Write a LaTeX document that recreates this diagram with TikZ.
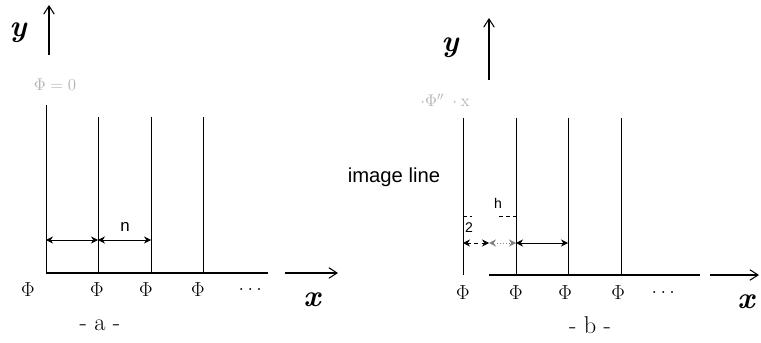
\documentclass[tikz,border=0pt]{standalone}
\usepackage{amsmath}
\usepackage{fontspec}
\setsansfont{Liberation Sans}
\usetikzlibrary{arrows.meta}

\begin{document}
\begin{tikzpicture}[x=0.03cm,y=-0.03cm,
  wire/.style={line width=0.7pt},
  base/.style={line width=1.4pt},
  axis/.style={line width=0.9pt,-{Straight Barb[length=7pt,width=9pt]}},
  dim/.style={line width=0.7pt,{Stealth[length=6pt,width=6pt]}-{Stealth[length=6pt,width=6pt]}},
  philabel/.style={font=\LARGE},
  axlabel/.style={font=\fontsize{26}{26}\selectfont\bfseries\itshape},
  faint/.style={text=gray!60,font=\Large}]
  \useasboundingbox (0,0) rectangle (761,343);

  % panel (a)
  \draw[axis] (49,55) -- (49,5);
  \node[axlabel] (ya) at (18,33) {y};
  \node[faint] (phia) at (55,85) {$\Phi = 0$};

  \draw[wire] (46,105) -- (46,273);
  \foreach \x in {98,151,203}
    \draw[wire] (\x,117) -- (\x,273);
  \draw[base] (46,273) -- (268,273);
  \draw[axis] (285,273) -- (338,273);
  \node[axlabel] (xa) at (312,300) {x};

  \draw[dim] (46,240) -- (98,240);
  \draw[dim] (98,240) -- (151,240);
  \node[font=\sffamily\Large] (ha) at (125,227) {n};

  \foreach \x/\name in {28/a0,97/a1,146/a2,198/a3}
    \node[philabel] (\name) at (\x,290) {$\Phi$};
  \node[philabel] (dotsa) at (252,290) {$\dots$};
  \node[font=\huge] (capa) at (100,325) {- a -};

  % panel (b)
  \draw[axis] (489,80) -- (489,18);
  \node[axlabel] (yb) at (450,48) {y};
  \node[faint] (phib) at (445,100) {$\cdot\Phi''\;\cdot\mathrm{x}$};
  \node[font=\sffamily\LARGE] (img) at (394,177) {image line};

  \foreach \x in {463,516,568,621}
    \draw[wire] (\x,118) -- (\x,275);
  \draw[base] (489,275) -- (700,275);
  \draw[axis] (710,275) -- (759,275);
  \node[axlabel] (xb) at (746,302) {x};

  \draw[wire,dashed] (463,216) -- (472,216);
  \node[font=\sffamily\large] (half) at (469,228) {2};
  \draw[wire,dashed] (499,216) -- (516,216);
  \node[font=\sffamily\large] (hb) at (498,203) {h};

  \draw[dim,dashed] (463,243) -- (489,243);
  \draw[dim,dotted,gray] (489,243) -- (516,243);
  \draw[dim] (516,243) -- (568,243);

  \foreach \x/\name in {463/b0,516/b1,565/b2,618/b3}
    \node[philabel] (\name) at (\x,293) {$\Phi$};
  \node[philabel] (dotsb) at (665,293) {$\dots$};
  \node[font=\huge] (capb) at (590,325) {- b -};
\end{tikzpicture}
\end{document}
